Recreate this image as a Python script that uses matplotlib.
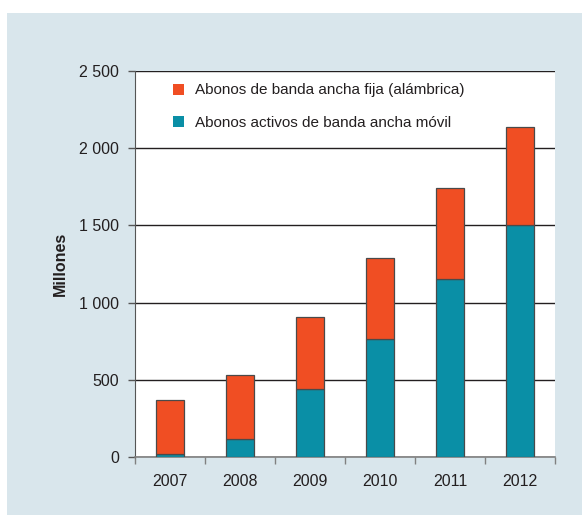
"""
stacked bars: broadband subscriptions, fixed vs mobile, 2007-2012
"""

import matplotlib
matplotlib.use("Agg")
import matplotlib.pyplot as plt
from matplotlib.patches import Rectangle, Patch
from matplotlib.ticker import FuncFormatter

plt.rcParams['font.family'] = ['Liberation Sans Narrow', 'Liberation Sans', 'DejaVu Sans']

#data (millions)
years = ['2007', '2008', '2009', '2010', '2011', '2012']
movil = [20, 119, 439, 763, 1153, 1500]
fija_total = [368, 529, 905, 1291, 1741, 2136]
fija = [t - m for t, m in zip(fija_total, movil)]

label_fija = "Abonos de banda ancha fija (alámbrica)"
label_movil = "Abonos activos de banda ancha móvil"

c_fija = '#f04e23'
c_movil = '#0a8fa6'
c_panel = '#d9e6ec'
c_text = '#231f20'


def thousands(v, pos):
    s = "{:,.0f}".format(v)
    return s.replace(",", " ")


def main():
    fig = plt.figure(figsize=(5.82, 5.15), dpi=100, facecolor='white')
    fig.patches.append(Rectangle((7/582, 0), 1.0, 1 - 13/515, transform=fig.transFigure,
                                 facecolor=c_panel, edgecolor='none', zorder=-10))

    ax = fig.add_axes([134.5/582, 1 - 457.1/515, (555 - 134.5)/582, (457.1 - 70.9)/515])
    ax.set_facecolor('white')

    x = list(range(len(years)))
    ax.bar(x, movil, width=0.4, color=c_movil, edgecolor='#4a4a4a', linewidth=0.9, zorder=3)
    ax.bar(x, fija, width=0.4, bottom=movil, color=c_fija, edgecolor='#4a4a4a', linewidth=0.9, zorder=3)

    ax.set_xlim(-0.5, 5.5)
    ax.set_ylim(0, 2500)
    ax.set_yticks([0, 500, 1000, 1500, 2000, 2500])
    ax.yaxis.set_major_formatter(FuncFormatter(thousands))
    ax.grid(axis='y', color='#231f20', linewidth=1.0, zorder=0)
    ax.set_axisbelow(True)

    ax.set_xticks(x)
    ax.set_xticklabels(years)
    ax.set_xticks([i - 0.5 for i in range(len(years) + 1)], minor=True)
    ax.tick_params(axis='x', which='major', length=0, pad=12, labelsize=11.5, labelcolor=c_text)
    ax.tick_params(axis='x', which='minor', length=5, width=1, color='#808080', direction='out')
    ax.tick_params(axis='y', length=5, width=1, color='#555555', pad=6, labelsize=11.5, labelcolor=c_text)

    for s in ['top', 'right']:
        ax.spines[s].set_visible(False)
    ax.spines['left'].set_color('#555555')
    ax.spines['bottom'].set_color('#808080')
    ax.spines['bottom'].set_linewidth(1.2)

    ax.set_ylabel("Millones", fontsize=11.5, fontweight='bold', color=c_text, labelpad=8)

    handles = [Patch(facecolor=c_fija, edgecolor='none', label=label_fija),
               Patch(facecolor=c_movil, edgecolor='none', label=label_movil)]
    ax.legend(handles=handles, loc='upper left', bbox_to_anchor=(0.058, 1.003), frameon=False,
              fontsize=11, handlelength=0.75, handleheight=0.75, handletextpad=0.7,
              labelspacing=1.2, labelcolor=c_text)

    fig.savefig("out.png", dpi=100, facecolor=fig.get_facecolor())


if __name__ == "__main__":
    main()
